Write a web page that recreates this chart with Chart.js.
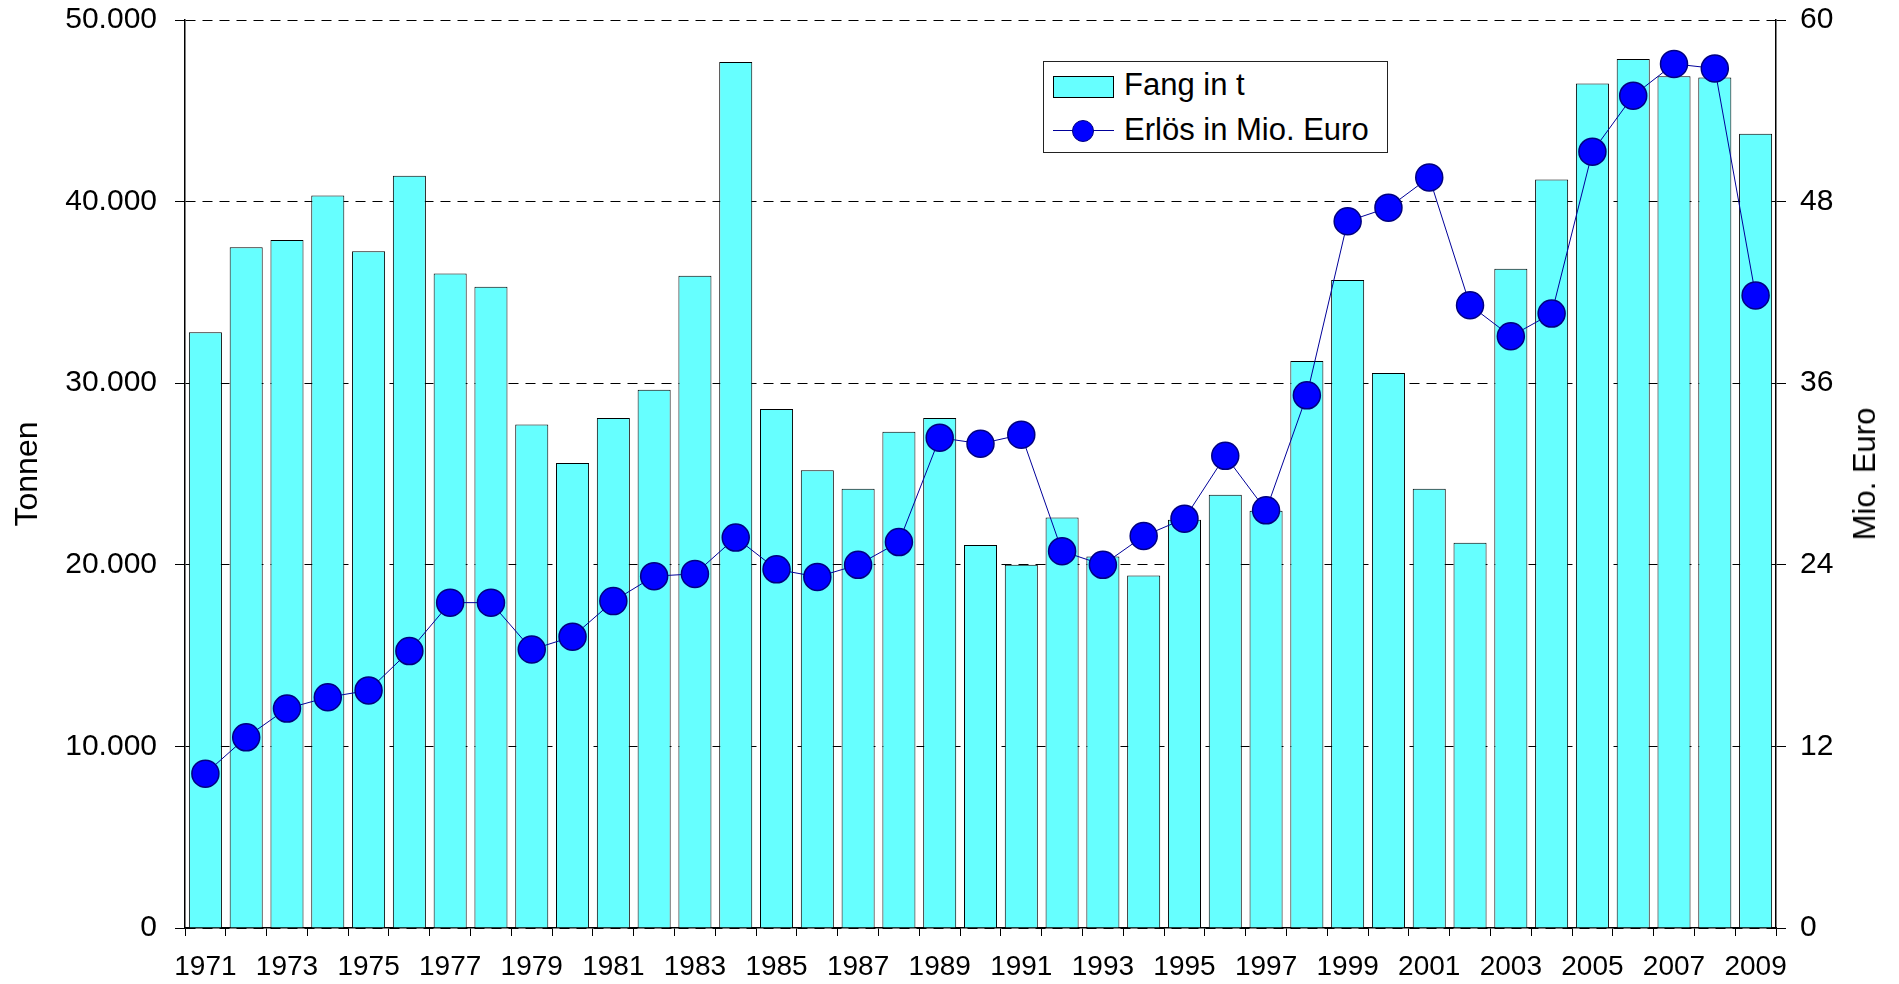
<!DOCTYPE html>
<html>
<head>
<meta charset="utf-8">
<script src="https://cdn.jsdelivr.net/npm/chart.js@4.4.1/dist/chart.umd.min.js"></script>
<style>
    html, body { margin: 0; padding: 0; background: #fff; }
    #wrap { position: relative; width: 1899px; height: 984px; font-family: "Liberation Sans", Arial, sans-serif; }
    #legend { position: absolute; left: 1043px; top: 61px; width: 343px; height: 90px; border: 1px solid #222; background: #fff; }
    .swatch { position: absolute; left: 9px; top: 14px; width: 59px; height: 20px; background: #66ffff; border: 1px solid #000; }
    .lline { position: absolute; left: 9px; top: 68px; width: 61px; height: 1px; background: #000099; }
    .ldot { position: absolute; left: 28px; top: 58px; width: 20px; height: 20px; border-radius: 50%; background: #0000ff; border: 1px solid #000080; }
    .ltext { position: absolute; left: 80px; font-size: 31px; line-height: 31px; white-space: nowrap; color: #000; }
    #rtitle { position: absolute; left: 1865px; top: 474px; transform: translate(-50%, -50%) rotate(-90deg); font-size: 31px; white-space: nowrap; color: #000; }
</style>
</head>
<body>
<div id="wrap">
    <canvas id="fangChart"></canvas>
    <div id="legend">
        <div class="swatch"></div>
        <div class="ltext" style="top: 7px;">Fang in t</div>
        <div class="lline"></div>
        <div class="ldot"></div>
        <div class="ltext" style="top: 52px;">Erlös in Mio. Euro</div>
    </div>
    <div id="rtitle">Mio. Euro</div>
</div>
<script>
// Jahre
const years = ['1971', '1972', '1973', '1974', '1975', '1976', '1977', '1978', '1979', '1980',
    '1981', '1982', '1983', '1984', '1985', '1986', '1987', '1988', '1989', '1990',
    '1991', '1992', '1993', '1994', '1995', '1996', '1997', '1998', '1999', '2000',
    '2001', '2002', '2003', '2004', '2005', '2006', '2007', '2008', '2009'];

// Fang in t (linke Achse)
const fang = [32800, 37490, 37890, 40330, 37260, 41420, 36040, 35310, 27720, 25610,
    28090, 29640, 35910, 47690, 28580, 25210, 24190, 27330, 28090, 21090,
    20000, 22610, 20460, 19410, 22480, 23860, 22970, 31220, 35680, 30560,
    24190, 21220, 36300, 41220, 46500, 47850, 46900, 46830, 43730];

// Erlös in Mio. Euro (rechte Achse)
const erloes = [10.2, 12.6, 14.5, 15.25, 15.7, 18.3, 21.5, 21.5, 18.4, 19.25,
    21.6, 23.25, 23.4, 25.8, 23.7, 23.2, 24.0, 25.5, 32.4, 32.0,
    32.6, 24.9, 24.0, 25.9, 27.05, 31.2, 27.6, 35.2, 46.7, 47.6,
    49.6, 41.15, 39.1, 40.6, 51.3, 55.0, 57.1, 56.8, 41.8];

// Achsenbereiche
const leftMax = 50000, leftStep = 10000;
const rightMax = 60, rightStep = 12;

const FONT = 'Liberation Sans';

// 50000 -> "50.000"
function formatDe(v) {
    return String(v).replace(/\B(?=(\d{3})+(?!\d))/g, '.');
}

// fixed axis box sizes so the plot area sits where the original does
function fixY(width) {
    return s => {
        s.width = width;
        s.paddingTop = 0;
        s.paddingBottom = 0;
    };
}

const ctx = document.getElementById('fangChart').getContext('2d');

new Chart(ctx, {
    type: 'bar',
    data: {
        labels: years,
        datasets: [{
            type: 'line',
            label: 'Erlös in Mio. Euro',
            data: erloes,
            yAxisID: 'y2',
            borderColor: '#000099',
            borderWidth: 1,
            pointRadius: 13.5,
            pointBackgroundColor: '#0000ff',
            pointBorderColor: '#000080',
            pointBorderWidth: 1.5,
            tension: 0,
            order: 0
        }, {
            label: 'Fang in t',
            data: fang,
            yAxisID: 'y',
            backgroundColor: '#66ffff',
            borderColor: '#000000',
            borderWidth: 1,
            barPercentage: 0.81,
            categoryPercentage: 1.0,
            order: 1
        }]
    },
    options: {
        responsive: true,
        maintainAspectRatio: false,
        animation: false,
        layout: { padding: { top: 20, left: 0, right: 0, bottom: 0 } },
        plugins: {
            legend: { display: false },
            tooltip: { enabled: false }
        },
        scales: {
            x: {
                afterFit: s => { s.height = 56; },
                grid: {
                    offset: true,
                    drawOnChartArea: false,
                    drawTicks: true,
                    tickLength: 8,
                    tickColor: '#000',
                    tickWidth: 1
                },
                border: { display: true, color: '#000', width: 1.5 },
                ticks: {
                    autoSkip: false,
                    maxRotation: 0,
                    padding: 14,
                    color: '#000',
                    font: { family: FONT, size: 28 },
                    callback: function (val, i) {
                        return i % 2 === 0 ? years[i] : '';
                    }
                }
            },
            y: {
                position: 'left',
                min: 0,
                max: leftMax,
                afterFit: fixY(185),
                grid: {
                    color: '#000',
                    lineWidth: 1,
                    tickLength: 10,
                    tickColor: '#000',
                    tickBorderDash: []
                },
                border: { display: true, color: '#000', width: 1.5, dash: [10, 7] },
                ticks: {
                    stepSize: leftStep,
                    padding: 18,
                    color: '#000',
                    font: { family: FONT, size: 30 },
                    callback: v => formatDe(v)
                },
                title: {
                    display: true,
                    text: 'Tonnen',
                    color: '#000',
                    font: { family: FONT, size: 32 },
                    padding: { top: 9, bottom: 0 }
                }
            },
            y2: {
                position: 'right',
                min: 0,
                max: rightMax,
                afterFit: fixY(123),
                grid: {
                    drawOnChartArea: false,
                    tickLength: 10,
                    tickColor: '#000'
                },
                border: { display: true, color: '#000', width: 1.5 },
                ticks: {
                    stepSize: rightStep,
                    padding: 14,
                    color: '#000',
                    font: { family: FONT, size: 30 }
                }
            }
        }
    }
});
</script>
</body>
</html>
